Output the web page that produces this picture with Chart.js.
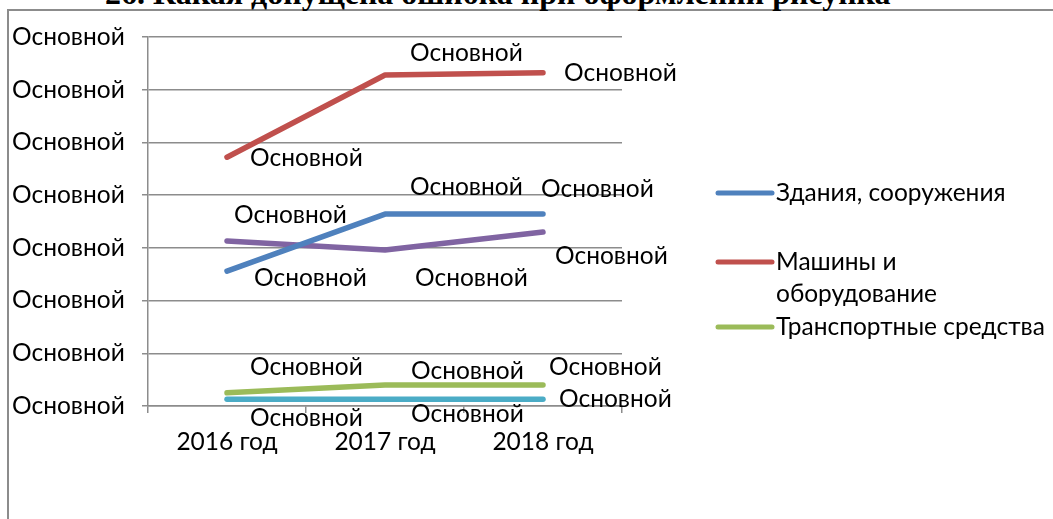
<!DOCTYPE html>
<html>
<head>
<meta charset="utf-8">
<script src="https://cdn.jsdelivr.net/npm/chart.js@4.4.1/dist/chart.umd.min.js"></script>
<style>
  html, body { margin: 0; padding: 0; background: #fff; overflow: hidden; }
  #wrap { position: relative; width: 1053px; height: 519px; }
  #frame { position: absolute; left: 7px; top: 9px; right: -10px; bottom: -10px;
           border-top: 2px solid #8c8c8c; border-left: 2px solid #8c8c8c; }
  #caption { position: absolute; left: 105px; top: -23px; white-space: nowrap;
             font: bold 32px "Liberation Serif", serif; line-height: 32px; color: #000; }
  canvas { position: absolute; left: 0; top: 0; }
</style>
</head>
<body>
<div id="wrap">
  <div id="frame"></div>
  <div id="caption">26. Какая допущена ошибка при оформлении рисунка</div>
  <canvas id="lineChart" width="1053" height="519"></canvas>
</div>
<script>
// ---- chart data ----
const years = ['2016 год', '2017 год', '2018 год'];
const yTickText = 'Основной';
const pointLabelText = 'Основной';

const buildings = [2.56, 3.64, 3.64];     // Здания, сооружения
const machines = [4.72, 6.28, 6.32];      // Машины и оборудование
const transport = [0.25, 0.40, 0.40];     // Транспортные средства
const series4 = [3.13, 2.96, 3.30];
const series5 = [0.13, 0.13, 0.13];

const seriesNames = ['Здания, сооружения', 'Машины и оборудование', 'Транспортные средства', 'Ряд4', 'Ряд5'];
const legendLines = [['Здания, сооружения'], ['Машины и', 'оборудование'], ['Транспортные средства']];

// ---- styles / layout ----
const colors = ['#4f81bd', '#c0504d', '#9bbb59', '#8064a2', '#4bacc6'];
const gridColor = '#8c8c8c';
const fontFamily = 'Lato, "Open Sans", sans-serif';
const fontSize = 24.5;
const textFont = fontSize + 'px ' + fontFamily;

// label offsets (dx, dy) relative to each point, per series
const labelOffsets = [
    [[27, 7], [25, -27], [-2, -25]],
    [[23, 1], [25, -22], [21, 0]],
    [[23, -26], [26, -14], [6, -18]],
    [[7, -26], [30, 28], [12, 24]],
    [[23, 19], [26, 15], [16, 0]]
];

// Draws the "Основной" text next to every point
const pointLabelsPlugin = {
    id: 'pointLabels',
    afterDatasetsDraw(chart) {
        const ctx = chart.ctx;
        ctx.save();
        ctx.font = textFont;
        ctx.fillStyle = '#000';
        ctx.textAlign = 'left';
        ctx.textBaseline = 'middle';
        chart.data.datasets.forEach((ds, i) => {
            const meta = chart.getDatasetMeta(i);
            meta.data.forEach((pt, j) => {
                const off = labelOffsets[i][j];
                ctx.fillText(pointLabelText, pt.x + off[0], pt.y + off[1]);
            });
        });
        ctx.restore();
    }
};

// Legend on the right with only the first three series
const sideLegendPlugin = {
    id: 'sideLegend',
    afterDraw(chart) {
        const ctx = chart.ctx;
        const lineX0 = chart.chartArea.right + 96;
        const lineX1 = lineX0 + 54;
        const rowY = [193, 262, 327];
        ctx.save();
        ctx.font = textFont;
        ctx.textBaseline = 'middle';
        ctx.textAlign = 'left';
        legendLines.forEach((lines, i) => {
            ctx.strokeStyle = colors[i];
            ctx.lineWidth = 5;
            ctx.lineCap = 'round';
            ctx.beginPath();
            ctx.moveTo(lineX0, rowY[i]);
            ctx.lineTo(lineX1, rowY[i]);
            ctx.stroke();
            ctx.fillStyle = '#000';
            lines.forEach((txt, k) => ctx.fillText(txt, lineX1 + 4, rowY[i] + k * 32));
        });
        ctx.restore();
    }
};

const allSeries = [buildings, machines, transport, series4, series5];

const lineChart = new Chart(document.getElementById('lineChart').getContext('2d'), {
    type: 'line',
    data: {
        labels: years,
        datasets: allSeries.map((values, i) => ({
            label: seriesNames[i],
            data: values,
            borderColor: colors[i],
            backgroundColor: colors[i],
            borderWidth: 5.5,
            borderCapStyle: 'round',
            borderJoinStyle: 'round',
            pointRadius: 0,
            tension: 0
        }))
    },
    options: {
        responsive: false,
        animation: false,
        layout: { padding: { left: 12, top: 37, right: 431, bottom: 53 } },
        scales: {
            x: {
                offset: true,
                grid: { offset: true, drawOnChartArea: false, drawTicks: true, tickLength: 7, color: gridColor, lineWidth: 1.5 },
                border: { display: true, color: gridColor, width: 1.5 },
                ticks: { color: '#000', font: { family: fontFamily, size: fontSize }, padding: 14, maxRotation: 0 },
                afterFit(scale) { scale.height = 60; }
            },
            y: {
                min: 0,
                max: 7,
                grid: { color: gridColor, lineWidth: 1.5, tickLength: 6 },
                border: { display: true, color: gridColor, width: 1.5 },
                ticks: {
                    stepSize: 1,
                    crossAlign: 'far',
                    color: '#000',
                    font: { family: fontFamily, size: fontSize },
                    callback: () => yTickText
                },
                afterFit(scale) { scale.width = 136; }
            }
        },
        plugins: {
            legend: { display: false },
            tooltip: { enabled: false }
        }
    },
    plugins: [pointLabelsPlugin, sideLegendPlugin]
});
</script>
</body>
</html>
